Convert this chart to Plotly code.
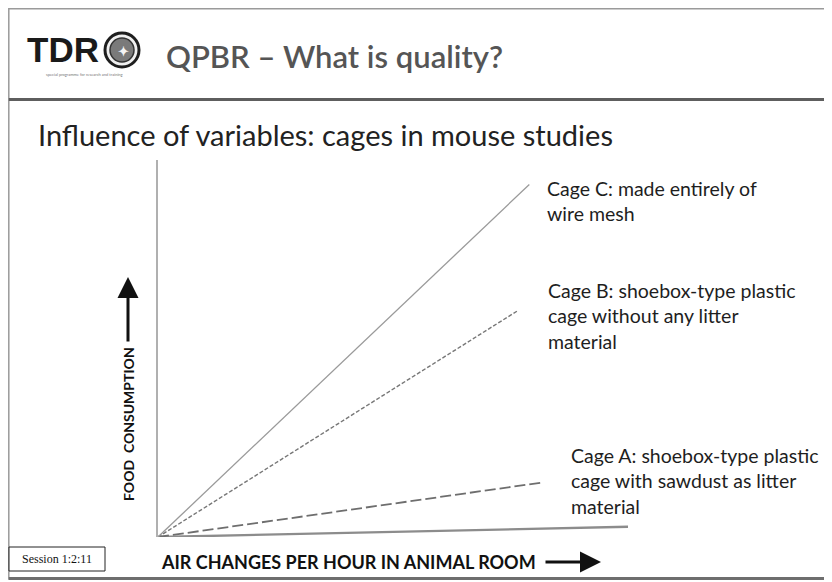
import plotly.graph_objects as go

# ---------------- data (arbitrary units) ----------------
air_changes_c = [0, 7.9]
food_c = [0, 9.35]
air_changes_b = [0, 7.65]
food_b = [0, 6.0]
air_changes_a = [0, 8.2]
food_a = [0, 1.45]
air_changes_base = [0, 10]
food_base = [0, 0.27]

label_c = "Cage C: made entirely of<br>wire mesh"
label_b = "Cage B: shoebox-type plastic<br>cage without any litter<br>material"
label_a = "Cage A: shoebox-type plastic<br>cage with sawdust as litter<br>material"
title_text = "QPBR – What is quality?"
subtitle_text = "Influence of variables: cages in mouse studies"
x_title = "AIR CHANGES PER HOUR IN ANIMAL ROOM"
y_title = "FOOD&nbsp;&nbsp;CONSUMPTION"
session_text = "Session 1:2:11"

W, H = 832, 582
OFF = 8  # the page body adds an 8px margin around the figure


def px(x):
    return (x - OFF) / W


def py(y):
    return 1 - (y - OFF) / H


SANS = "Lato, 'Open Sans', 'DejaVu Sans', sans-serif"

fig = go.Figure()
fig.add_trace(go.Scatter(x=air_changes_base, y=food_base, mode="lines",
                         line=dict(color="#8c8c8c", width=2.4), hoverinfo="skip"))
fig.add_trace(go.Scatter(x=air_changes_a, y=food_a, mode="lines",
                         line=dict(color="#6e6e6e", width=1.8, dash="11px,4px"), hoverinfo="skip"))
fig.add_trace(go.Scatter(x=air_changes_b, y=food_b, mode="lines",
                         line=dict(color="#777777", width=1.4, dash="4px,2px"), hoverinfo="skip"))
fig.add_trace(go.Scatter(x=air_changes_c, y=food_c, mode="lines",
                         line=dict(color="#9a9a9a", width=1.3), hoverinfo="skip"))

shapes = [
    # slide frame
    dict(type="rect", xref="paper", yref="paper", x0=px(8.8), x1=px(829), y0=py(579), y1=py(8.8),
         line=dict(color="#9a9a9a", width=1.5), layer="below"),
    # bottom shadow
    dict(type="line", xref="paper", yref="paper", x0=px(8.8), x1=px(829), y0=py(578.5), y1=py(578.5),
         line=dict(color="#6e6e6e", width=3)),
    # header separator
    dict(type="line", xref="paper", yref="paper", x0=px(8.8), x1=px(829), y0=py(99.5), y1=py(99.5),
         line=dict(color="#5e5e5e", width=3)),
    # globe emblem
    dict(type="circle", xref="paper", yref="paper", x0=px(105), x1=px(139), y0=py(67), y1=py(33),
         line=dict(color="#1e1e1e", width=3), fillcolor="#f0f0f0"),
    dict(type="circle", xref="paper", yref="paper", x0=px(110), x1=px(134), y0=py(62), y1=py(38),
         line=dict(color="#333333", width=1.5), fillcolor="#7a7a7a"),
    # session box
    dict(type="rect", xref="paper", yref="paper", x0=px(9), x1=px(105), y0=py(571), y1=py(547),
         line=dict(color="#222222", width=1), fillcolor="white"),
]

annotations = [
    dict(x=px(25), y=py(50), xref="paper", yref="paper", xanchor="left", yanchor="middle",
         text="<b>TDR</b>", showarrow=False,
         font=dict(family="'Liberation Sans', Arial, sans-serif", size=35, color="#1a1a1a")),
    dict(x=px(123), y=py(51), xref="paper", yref="paper", xanchor="center", yanchor="middle",
         text="<b>✦</b>", showarrow=False, font=dict(size=13, color="#f4f4f4")),
    dict(x=px(84), y=py(74), xref="paper", yref="paper", xanchor="center", yanchor="middle",
         text="special programme for research and training", showarrow=False,
         font=dict(family=SANS, size=4, color="#777777")),
    dict(x=px(164), y=py(56), xref="paper", yref="paper", xanchor="left", yanchor="middle",
         text=title_text, showarrow=False,
         font=dict(family=SANS, size=31, color="#555555", weight=600)),
    dict(x=px(36), y=py(134), xref="paper", yref="paper", xanchor="left", yanchor="middle",
         text=subtitle_text, showarrow=False,
         font=dict(family=SANS, size=29, color="#222222")),
    dict(x=px(545), y=py(201), xref="paper", yref="paper", xanchor="left", yanchor="middle",
         text=label_c, showarrow=False, align="left",
         font=dict(family=SANS, size=19.5, color="#1e1e1e")),
    dict(x=px(546), y=py(316), xref="paper", yref="paper", xanchor="left", yanchor="middle",
         text=label_b, showarrow=False, align="left",
         font=dict(family=SANS, size=19.5, color="#1e1e1e")),
    dict(x=px(569), y=py(481), xref="paper", yref="paper", xanchor="left", yanchor="middle",
         text=label_a, showarrow=False, align="left",
         font=dict(family=SANS, size=19.5, color="#1e1e1e")),
    dict(x=px(57), y=py(559), xref="paper", yref="paper", xanchor="center", yanchor="middle",
         text=session_text, showarrow=False,
         font=dict(family="'Liberation Serif', 'Times New Roman', serif", size=12, color="#111111")),
    dict(x=px(348), y=py(562), xref="paper", yref="paper", xanchor="center", yanchor="middle",
         text="<b>" + x_title + "</b>", showarrow=False,
         font=dict(family=SANS, size=18, color="#111111")),
    dict(x=px(128), y=py(424), xref="paper", yref="paper", xanchor="center", yanchor="middle",
         text="<b>" + y_title + "</b>", showarrow=False, textangle=-90,
         font=dict(family=SANS, size=14, color="#111111")),
    # arrows
    dict(x=px(601), y=py(562), xref="paper", yref="paper", ax=-57, ay=0, text="",
         showarrow=True, arrowhead=2, arrowsize=1.4, arrowwidth=3, arrowcolor="#111111"),
    dict(x=px(128), y=py(277), xref="paper", yref="paper", ax=0, ay=66, text="",
         showarrow=True, arrowhead=2, arrowsize=1.4, arrowwidth=3, arrowcolor="#111111"),
]

fig.update_layout(
    width=W, height=H,
    margin=dict(l=0, r=0, t=0, b=0),
    paper_bgcolor="white", plot_bgcolor="rgba(0,0,0,0)",
    showlegend=False,
    shapes=shapes,
    annotations=annotations,
    xaxis=dict(domain=[px(158), px(628)], range=[0, 10], showgrid=False, zeroline=False,
               showline=False, showticklabels=False, ticks=""),
    yaxis=dict(domain=[py(537), py(160)], range=[0, 10], showgrid=False, zeroline=False,
               showline=True, linecolor="#b0b0b0", linewidth=1.5, showticklabels=False, ticks=""),
)

fig.write_html("out.html")
